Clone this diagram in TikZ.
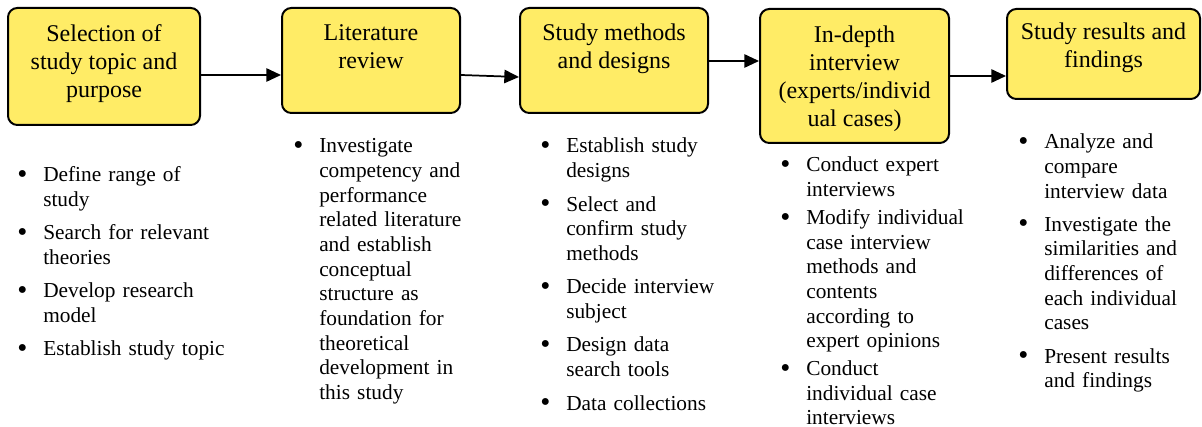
\documentclass[tikz,border=0pt]{standalone}
\usepackage{fontspec}
\setmainfont{Liberation Serif}
\usepackage{graphicx}
\usepackage{enumitem}
\usetikzlibrary{arrows.meta,calc,fit}

\definecolor{stageyellow}{RGB}{255,236,102}

\tikzset{
  stage/.style={draw=black, line width=1.5pt, fill=stageyellow, rounded corners=7pt, inner sep=0pt},
  title/.style={anchor=north, align=center, inner sep=0pt, font=\fontsize{18}{21}\selectfont},
  notes/.style={anchor=north west, inner sep=0pt, text width=170pt, font=\fontsize{16}{18.5}\selectfont},
  flow/.style={-{Triangle[length=11pt,width=10pt]}, line width=1.3pt},
}

% bullet list under a stage, optional arg is the gap between items
\newcommand{\notelist}[2][6.5pt]{%
  \begin{itemize}[label=\raisebox{-1.2pt}{\scalebox{1.35}{\textbullet}}, leftmargin=21pt, labelsep=11.8pt,
      itemsep=#1, topsep=0pt, parsep=0pt, partopsep=0pt]
    #2
  \end{itemize}}

\begin{document}
\begin{tikzpicture}[x=0.75pt, y=-0.75pt]
  \useasboundingbox (0,0) rectangle (1202,427);

  % the five stages
  \node[stage, fit={(8,8) (200,125)}] (sel) {};
  \node[stage, fit={(282,8) (460,113)}] (lit) {};
  \node[stage, fit={(520,8) (708,113)}] (meth) {};
  \node[stage, fit={(760,9) (949,143)}] (intv) {};
  \node[stage, fit={(1007,9) (1200,99)}] (res) {};

  \node[title] (selT) at ($(sel.north)+(0,17)$) {Selection of\\study topic and\\purpose};
  \node[title] (litT) at ($(lit.north)+(0,17)$) {Literature\\review};
  \node[title] (methT) at ($(meth.north)+(0,17)$) {Study methods\\and designs};
  \node[title] (intvT) at ($(intv.north)+(0,18)$) {In-depth\\interview\\(experts/individ\\ual cases)};
  \node[title] (resT) at ($(res.north)+(0,15)$) {Study results and\\findings};

  % connectors
  \draw[flow] (sel.east |- 0,75) -- (lit.west |- 0,75);
  \draw[flow] (lit.east |- 0,75) -- (meth.west |- 0,77);
  \draw[flow] (meth.east |- 0,61) -- (intv.west |- 0,61);
  \draw[flow] (intv.east |- 0,76) -- (res.west |- 0,76);

  % notes below each stage
  \node[notes] (selN) at (15,157) {\notelist[6.5pt]{
    \item Define range of\\study
    \item Search for relevant\\theories
    \item Develop research\\model
    \item Establish study topic}};
  \node[notes] (litN) at (291,128) {\notelist{
    \item Investigate\\competency and\\performance\\related literature\\and establish\\conceptual\\structure as\\foundation for\\theoretical\\development in\\this study}};
  \node[notes] (methN) at (538,128) {\notelist[6.6pt]{
    \item Establish study\\designs
    \item Select and\\confirm study\\methods
    \item Decide interview\\subject
    \item Design data\\search tools
    \item Data collections}};
  \node[notes] (intvN) at (778,147) {\notelist[2.4pt]{
    \item Conduct expert\\interviews
    \item Modify individual\\case interview\\methods and\\contents\\according to\\expert opinions
    \item Conduct\\individual case\\interviews}};
  \node[notes] (resN) at (1016,124) {\notelist[6.3pt]{
    \item Analyze and\\compare\\interview data
    \item Investigate the\\similarities and\\differences of\\each individual\\cases
    \item Present results\\and findings}};
\end{tikzpicture}
\end{document}
